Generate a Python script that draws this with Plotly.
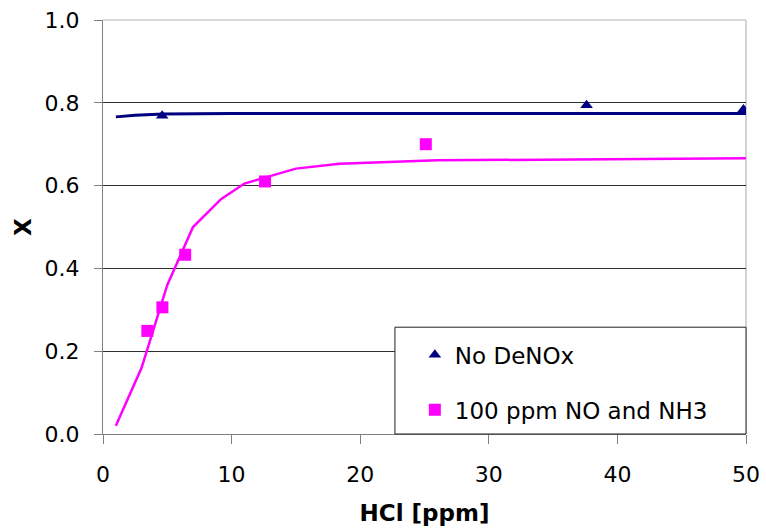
import plotly.graph_objects as go

# Measured conversion X versus HCl concentration
hcl_no_denox = [4.6, 37.6, 49.8]
x_no_denox = [0.769, 0.794, 0.784]

hcl_denox = [3.45, 4.62, 6.39, 12.6, 25.1]
x_denox = [0.249, 0.306, 0.433, 0.610, 0.700]

# Model curves
hcl_fit_no_denox = [1, 2.5, 4.7, 10, 20, 30, 40, 50]
x_fit_no_denox = [0.766, 0.770, 0.773, 0.774, 0.774, 0.774, 0.774, 0.774]

hcl_fit_denox = [1, 3, 5, 7, 9.2, 11, 15, 18.4, 26, 35, 50]
x_fit_denox = [0.02, 0.16, 0.36, 0.50, 0.568, 0.605, 0.641, 0.653, 0.661, 0.663, 0.666]

x_ticks = [0, 10, 20, 30, 40, 50]
y_ticks = [0.0, 0.2, 0.4, 0.6, 0.8, 1.0]

NAVY = "#000080"
MAGENTA = "#FF00FF"
FONT = "'DejaVu Sans', sans-serif"

fig = go.Figure()

fig.add_trace(go.Scatter(
    x=hcl_fit_no_denox, y=x_fit_no_denox, mode="lines",
    line=dict(color=NAVY, width=3), showlegend=False, hoverinfo="skip"))
fig.add_trace(go.Scatter(
    x=hcl_fit_denox, y=x_fit_denox, mode="lines",
    line=dict(color=MAGENTA, width=2.5), showlegend=False, hoverinfo="skip"))

fig.add_trace(go.Scatter(
    x=hcl_no_denox, y=x_no_denox, mode="markers", name="No DeNOx",
    legendgroup="a",
    marker=dict(symbol="triangle-up", size=11, color=NAVY)))
fig.add_trace(go.Scatter(
    x=hcl_denox, y=x_denox, mode="markers", name="100 ppm NO and NH3",
    legendgroup="b",
    marker=dict(symbol="square", size=12, color=MAGENTA)))

fig.update_layout(
    width=766, height=531,
    margin=dict(l=103, r=20, t=20, b=97, autoexpand=False),
    paper_bgcolor="white", plot_bgcolor="white",
    font=dict(family=FONT, size=22, color="black"),
    legend=dict(
        x=0.485, y=0.243, xanchor="left", yanchor="top",
        bgcolor="rgba(0,0,0,0)", borderwidth=0,
        font=dict(size=23, color="black"),
        tracegroupgap=22, traceorder="grouped",
    ),
    shapes=[
        # light plot-area frame (right side)
        dict(type="line", xref="paper", yref="paper", x0=1, x1=1, y0=0, y1=1,
             line=dict(color="#a8a8a8", width=1), layer="below"),
        # light top edge drawn over the 1.0 grid line
        dict(type="line", xref="paper", yref="paper", x0=0, x1=1, y0=1, y1=1,
             line=dict(color="#b4b4b4", width=1), layer="above"),
        # legend box
        dict(type="rect", xref="paper", yref="paper", x0=0.454, x1=1.0,
             y0=0, y1=0.258, fillcolor="white",
             line=dict(color="#202020", width=1), layer="above"),
    ],
)

fig.update_xaxes(
    range=[0, 50], tickvals=x_ticks, ticktext=[str(v) for v in x_ticks],
    showgrid=False, zeroline=False, automargin=False,
    showline=True, linecolor="#808080", linewidth=1,
    ticks="outside", ticklen=9, tickcolor="#808080", tickwidth=1,
    ticklabelstandoff=12,
    title=dict(text="<b>HCl [ppm]</b>", font=dict(size=23), standoff=18),
)
fig.update_yaxes(
    range=[0, 1], tickvals=y_ticks, ticktext=[f"{v:.1f}" for v in y_ticks],
    showgrid=True, gridcolor="#303030", gridwidth=1, zeroline=False,
    automargin=False,
    showline=True, linecolor="#808080", linewidth=1,
    ticks="outside", ticklen=8, tickcolor="#808080", tickwidth=1,
    ticklabelstandoff=10,
    title=dict(text="<b>X</b>", font=dict(size=23), standoff=6),
)

fig.write_html("out.html")
